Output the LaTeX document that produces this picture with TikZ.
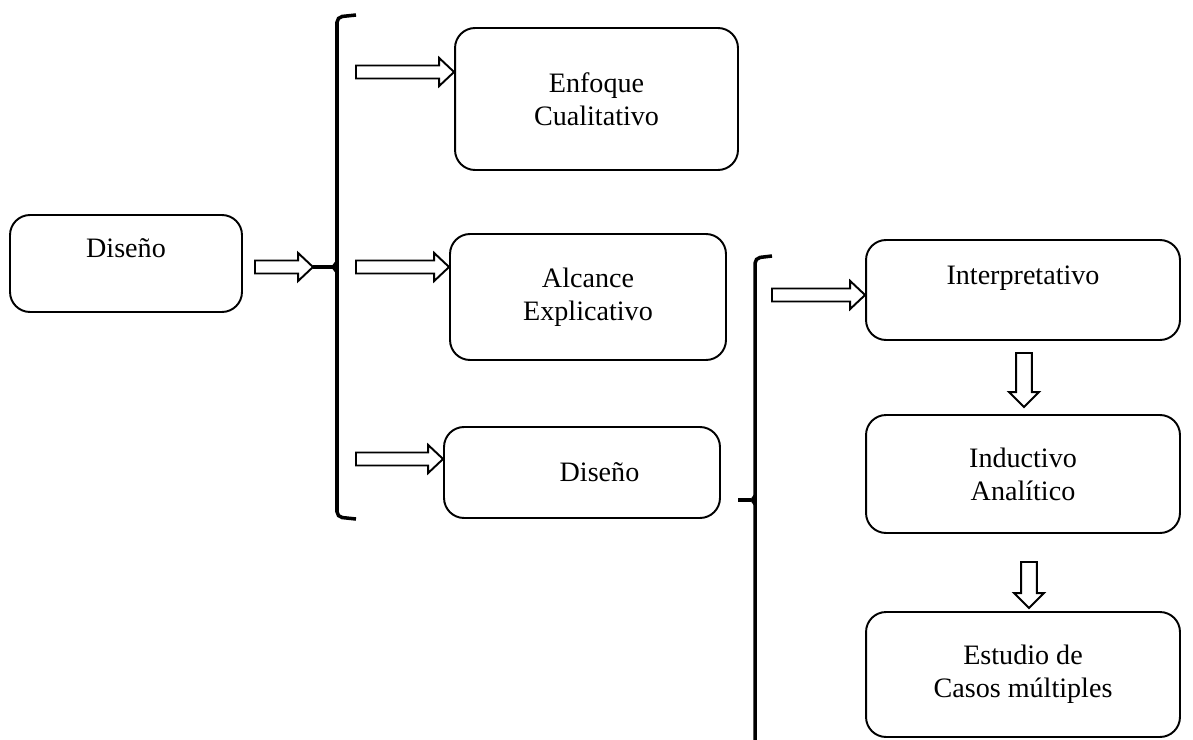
\documentclass[tikz,border=0pt]{standalone}
\usepackage{fontspec}
\setmainfont{Liberation Serif}
\usetikzlibrary{calc}

\newcommand{\rarrow}[2]{%
  \draw[blk] let \p1=(#1), \p2=(#2) in
    (\x1,\y1+3.7pt) -- (\x2-8.5pt,\y1+3.7pt) -- (\x2-8.5pt,\y1+8pt) -- (\x2,\y1)
    -- (\x2-8.5pt,\y1-8pt) -- (\x2-8.5pt,\y1-3.7pt) -- (\x1,\y1-3.7pt) -- cycle;}
\newcommand{\darrow}[2]{%
  \draw[blk] let \p1=(#1), \p2=(#2) in
    (\x1-4.5pt,\y1) -- (\x1-4.5pt,\y2+8.5pt) -- (\x1-8.5pt,\y2+8.5pt) -- (\x1,\y2)
    -- (\x1+8.5pt,\y2+8.5pt) -- (\x1+4.5pt,\y2+8.5pt) -- (\x1+4.5pt,\y1) -- cycle;}

\begin{document}
\begin{tikzpicture}[x=0.02cm,y=-0.02cm,
    box/.style={draw,line width=1.1pt,rounded corners=0.4cm,align=center,
      font=\fontsize{16}{18.7}\selectfont},
    blk/.style={draw,line width=1.1pt,fill=white,line join=miter},
    brk/.style={line width=2pt,rounded corners=3pt}]
  \useasboundingbox (0,0) rectangle (1193,740);
  % boxes
  \node[box,minimum width=4.64cm,minimum height=1.94cm,text depth=0.6cm] (dis) at (126,263.5) {Diseño};
  \node[box,minimum width=5.66cm,minimum height=2.84cm] (enf) at (596.5,99) {Enfoque\\Cualitativo};
  \node[box,minimum width=5.52cm,minimum height=2.52cm] (alc) at (588,297) {Alcance\\Explicativo};
  \node[box,minimum width=5.52cm,minimum height=1.82cm] (dis2) at (582,472.5) {\hspace{0.7cm}Diseño};
  \node[box,minimum width=6.28cm,minimum height=2cm,text depth=0.6cm] (int) at (1023,290) {Interpretativo};
  \node[box,minimum width=6.28cm,minimum height=2.36cm] (ind) at (1023,474) {Inductivo\\Analítico};
  \node[box,minimum width=6.28cm,minimum height=2.5cm] (est) at (1023,674.5) {Estudio de\\Casos múltiples};
  % brackets
  \coordinate (b1) at (313,267);
  \coordinate (b2) at (738,500);
  \draw[brk] (356,15) -- (337,17) -- (337,517) -- (356,519);
  \draw[line width=2pt] (b1) -- (333,267);
  \fill (337,259) -- (331,267) -- (337,275) -- cycle;
  \draw[brk] (772,256) -- (755,258) -- (755,745);
  \draw[line width=2pt] (b2) -- (751,500);
  \fill (755,493) -- (750,500) -- (755,507) -- cycle;
  % arrows
  \coordinate (a0) at (255,267);
  \coordinate (a1) at (356,72);
  \coordinate (a2) at (356,267);
  \coordinate (a3) at (356,459);
  \coordinate (a4) at (772,295);
  \coordinate (d1) at (1024,353);
  \coordinate (d2) at (1029,562);
  \rarrow{a0}{b1}
  \rarrow{a1}{a1 -| enf.west}
  \rarrow{a2}{a2 -| alc.west}
  \rarrow{a3}{a3 -| dis2.west}
  \rarrow{a4}{a4 -| int.west}
  \darrow{d1}{d1 |- 0,407}
  \darrow{d2}{d2 |- 0,608}
\end{tikzpicture}
\end{document}
